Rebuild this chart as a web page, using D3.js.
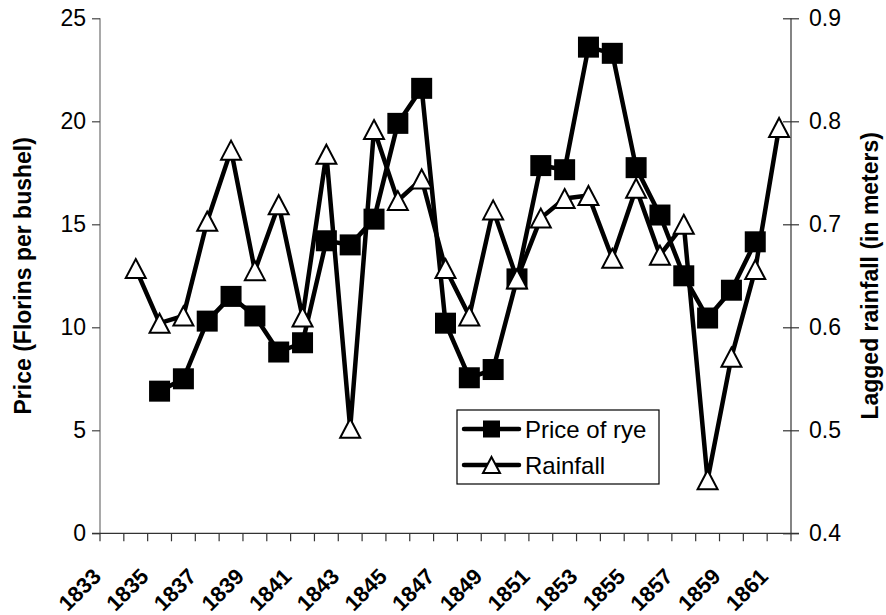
<!DOCTYPE html>
<html>
<head>
<meta charset="utf-8">
<script src="https://cdn.jsdelivr.net/npm/d3@7"></script>
<style>
  body { margin: 0; background: #fff; }
  text { font-family: "Liberation Sans", Arial, sans-serif; }
</style>
</head>
<body>
<svg width="886" height="615"></svg>
<script>
// categories (years) and the two series
var years = d3.range(1833, 1862);
var priceYears = d3.range(1835, 1861);
var price = [6.9, 7.5, 10.3, 11.5, 10.55, 8.8, 9.25, 14.2, 14.0, 15.25, 19.9, 21.6,
             10.2, 7.55, 7.95, 12.35, 17.85, 17.65, 23.6, 23.3, 17.75, 15.45, 12.5, 10.45, 11.8, 14.15];
var rainYears = d3.range(1834, 1862);
var rainfall = [0.657, 0.604, 0.611, 0.703, 0.772, 0.655, 0.719, 0.610, 0.768, 0.502,
                0.792, 0.723, 0.744, 0.657, 0.611, 0.714, 0.647, 0.706, 0.725, 0.728,
                0.667, 0.735, 0.670, 0.700, 0.452, 0.571, 0.656, 0.794];
var priceTicks = [0, 5, 10, 15, 20, 25];
var rainTicks = [0.4, 0.5, 0.6, 0.7, 0.8, 0.9];
var yearLabels = years.filter(d => (d - 1833) % 2 === 0);

var svg = d3.select('svg');

var margin = {top: 18.3, bottom: 81.7, left: 100, right: 95};
var width = 886, height = 615;
var innerWidth = width - margin.left - margin.right;
var innerHeight = height - margin.top - margin.bottom;

var xScale = d3.scaleBand().domain(years).range([0, innerWidth]).padding(0);
var cx = d => xScale(d) + xScale.bandwidth() / 2;
var yLeft = d3.scaleLinear().domain([0, 25]).range([innerHeight, 0]);
var yRight = d3.scaleLinear().domain([0.4, 0.9]).range([innerHeight, 0]);

var g = svg.append('g')
  .attr('transform', 'translate(' + margin.left + ',' + margin.top + ')');

// left axis
var leftAxis = g.append('g')
  .call(d3.axisLeft(yLeft).tickValues(priceTicks).tickSize(8).tickPadding(6));
leftAxis.select('.domain').attr('stroke', '#7a7a7a').attr('stroke-width', 1.3).attr('d', 'M0,0V' + innerHeight);
leftAxis.selectAll('.tick line').attr('stroke', '#444').attr('stroke-width', 1.2);
leftAxis.selectAll('text').attr('font-size', 23).attr('fill', '#000');

// right axis, ticks cross the line
var rightAxis = g.append('g')
  .attr('transform', 'translate(' + innerWidth + ',0)')
  .call(d3.axisRight(yRight).tickValues(rainTicks).tickFormat(d3.format('.1f')).tickSize(8).tickPadding(10));
rightAxis.select('.domain').attr('stroke', '#333').attr('stroke-width', 1.2).attr('d', 'M0,0V' + innerHeight);
rightAxis.selectAll('.tick line').attr('x1', -8).attr('stroke', '#333').attr('stroke-width', 1.2);
rightAxis.selectAll('text').attr('font-size', 23).attr('fill', '#000');

// bottom axis, ticks between categories
var bottom = g.append('g').attr('transform', 'translate(0,' + innerHeight + ')');
bottom.append('line')
  .attr('x1', -8).attr('x2', innerWidth + 8)
  .attr('stroke', '#333').attr('stroke-width', 1.2);
bottom.selectAll('.btick')
  .data(years.concat([1862]))
  .enter().append('line')
  .attr('class', 'btick')
  .attr('x1', d => d === 1862 ? innerWidth : xScale(d))
  .attr('x2', d => d === 1862 ? innerWidth : xScale(d))
  .attr('y1', 0).attr('y2', 8)
  .attr('stroke', '#333').attr('stroke-width', 1.2);
bottom.selectAll('.blabel')
  .data(yearLabels)
  .enter().append('text')
  .attr('class', 'blabel')
  .attr('transform', d => 'translate(' + (cx(d) - 15) + ',39) rotate(-45)')
  .attr('text-anchor', 'end')
  .attr('dy', '0.35em')
  .attr('font-size', 22)
  .attr('font-weight', 'bold')
  .text(d => d);

// axis titles
svg.append('text')
  .attr('transform', 'translate(31,' + (margin.top + innerHeight / 2) + ') rotate(-90)')
  .attr('text-anchor', 'middle')
  .attr('font-size', 23).attr('font-weight', 'bold')
  .text('Price (Florins per bushel)');
svg.append('text')
  .attr('transform', 'translate(878,' + (margin.top + innerHeight / 2) + ') rotate(-90)')
  .attr('text-anchor', 'middle')
  .attr('font-size', 23).attr('font-weight', 'bold')
  .text('Lagged rainfall (in meters)');

// price of rye
var priceData = priceYears.map((y, i) => ({year: y, value: price[i]}));
g.append('path')
  .datum(priceData)
  .attr('fill', 'none').attr('stroke', '#000').attr('stroke-width', 4.5)
  .attr('stroke-linejoin', 'round')
  .attr('d', d3.line().x(d => cx(d.year)).y(d => yLeft(d.value)));
g.selectAll('.sq')
  .data(priceData)
  .enter().append('rect')
  .attr('class', 'sq')
  .attr('x', d => cx(d.year) - 10.5).attr('y', d => yLeft(d.value) - 10.5)
  .attr('width', 21).attr('height', 21)
  .attr('fill', '#000');

// rainfall
var tri = 'M0,-9.5L10,9.5L-10,9.5Z';
var rainData = rainYears.map((y, i) => ({year: y, value: rainfall[i]}));
g.append('path')
  .datum(rainData)
  .attr('fill', 'none').attr('stroke', '#000').attr('stroke-width', 4.5)
  .attr('stroke-linejoin', 'round')
  .attr('d', d3.line().x(d => cx(d.year)).y(d => yRight(d.value)));
g.selectAll('.tri')
  .data(rainData)
  .enter().append('path')
  .attr('class', 'tri')
  .attr('transform', d => 'translate(' + cx(d.year) + ',' + yRight(d.value) + ')')
  .attr('d', tri)
  .attr('fill', '#fff').attr('stroke', '#000').attr('stroke-width', 2);

// legend
var legend = svg.append('g').attr('transform', 'translate(457,410)');
legend.append('rect')
  .attr('width', 202).attr('height', 74)
  .attr('fill', '#fff').attr('stroke', '#000').attr('stroke-width', 1.2);
var items = [{name: 'Price of rye', y: 19}, {name: 'Rainfall', y: 55}];
items.forEach((it, i) => {
  legend.append('line')
    .attr('x1', 7).attr('x2', 62).attr('y1', it.y).attr('y2', it.y)
    .attr('stroke', '#000').attr('stroke-width', 4.5).attr('stroke-linecap', 'round');
  if (i === 0) {
    legend.append('rect')
      .attr('x', 26).attr('y', it.y - 8.5).attr('width', 17).attr('height', 17).attr('fill', '#000');
  } else {
    legend.append('path')
      .attr('transform', 'translate(34.5,' + it.y + ')')
      .attr('d', 'M0,-8L8.5,8L-8.5,8Z')
      .attr('fill', '#fff').attr('stroke', '#000').attr('stroke-width', 2);
  }
  legend.append('text')
    .attr('x', 68).attr('y', it.y + 8.5)
    .attr('font-size', 24)
    .text(it.name);
});
</script>
</body>
</html>
